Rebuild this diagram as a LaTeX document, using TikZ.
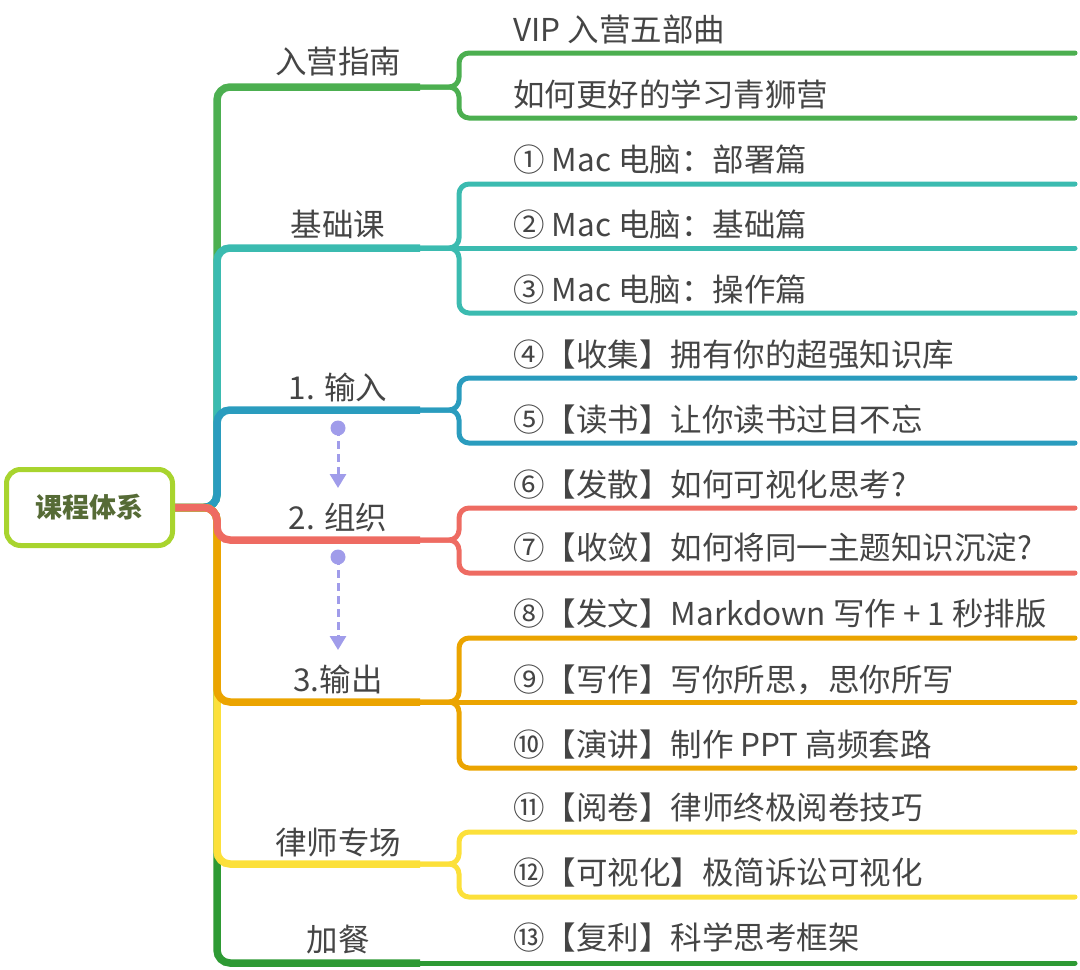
\documentclass[tikz,border=0pt]{standalone}
\usepackage{fontspec}
\setmainfont{Noto Sans CJK SC}
\usetikzlibrary{arrows.meta}
\definecolor{cgreen}{HTML}{4CAF50}
\definecolor{cteal}{HTML}{3BBBB0}
\definecolor{cblue}{HTML}{2A9CBE}
\definecolor{cred}{HTML}{EE6B62}
\definecolor{corange}{HTML}{EBA400}
\definecolor{cyellow}{HTML}{FCE03A}
\definecolor{cdkgreen}{HTML}{2E9A34}
\definecolor{clav}{HTML}{A09CEA}
\definecolor{clime}{HTML}{A8D42E}
\definecolor{colive}{HTML}{566B36}
\definecolor{txt}{HTML}{454545}
\begin{document}
\begin{tikzpicture}[x=1pt,y=-1pt,
  lbl/.style={text=txt, font=\fontsize{31.5}{36}\selectfont, inner sep=0pt, text height=0.88em, text depth=0.12em, yshift=-7.5pt},
  leaf/.style={lbl, anchor=west},
  topic/.style={lbl, anchor=center},
  trunk/.style={line width=7.5pt, rounded corners=13pt},
  twig/.style={line width=5pt, rounded corners=10pt, line cap=round},
  flow/.style={clav, line width=3pt, dash pattern=on 8pt off 5pt, -{Triangle[width=16pt,length=14pt]}},
  rootbox/.style={draw=clime, line width=5pt, rounded corners=14pt, minimum width=166pt, minimum height=76pt, text=colive, font=\bfseries\fontsize{27}{30}\selectfont, inner sep=0pt}
]
\useasboundingbox (0,0) rectangle (1080,970);
\coordinate (hub) at (217,507.5);
\coordinate (rootE) at (170,507.5);

% ---------- upper branches (outer first) ----------
% 入营指南
\draw[cgreen, trunk] (rootE) -- (hub) -- (217,87) -- (420,87);
\draw[cgreen, twig] (410,87) -- (459,87) -- (459,53) -- (1075,53);
\draw[cgreen, twig] (410,87) -- (459,87) -- (459,118) -- (1075,118);
% 基础课
\draw[cteal, trunk] (rootE) -- (hub) -- (217,248) -- (420,248);
\draw[cteal, twig] (410,248) -- (459,248) -- (459,184) -- (1075,184);
\draw[cteal, twig] (410,248) -- (1075,248);
\draw[cteal, twig] (410,248) -- (459,248) -- (459,313) -- (1075,313);
% 1. 输入
\draw[cblue, trunk] (rootE) -- (hub) -- (217,410) -- (420,410);
\draw[cblue, twig] (410,410) -- (459,410) -- (459,378) -- (1075,378);
\draw[cblue, twig] (410,410) -- (459,410) -- (459,443) -- (1075,443);

% ---------- lower branches (outer first) ----------
% 加餐
\draw[cdkgreen, trunk] (rootE) -- (hub) -- (217,963) -- (420,963);
\draw[cdkgreen, twig] (410,963) -- (1075,963);
% 律师专场
\draw[cyellow, trunk] (rootE) -- (hub) -- (217,864) -- (420,864);
\draw[cyellow, twig] (410,864) -- (459,864) -- (459,832) -- (1075,832);
\draw[cyellow, twig] (410,864) -- (459,864) -- (459,897) -- (1075,897);
% 3.输出
\draw[corange, trunk] (rootE) -- (hub) -- (217,702) -- (420,702);
\draw[corange, twig] (410,702) -- (459,702) -- (459,638) -- (1075,638);
\draw[corange, twig] (410,702) -- (1075,702);
\draw[corange, twig] (410,702) -- (459,702) -- (459,768) -- (1075,768);
% 2. 组织
\draw[cred, trunk] (rootE) -- (hub) -- (217,540) -- (420,540);
\draw[cred, twig] (410,540) -- (459,540) -- (459,508) -- (1075,508);
\draw[cred, twig] (410,540) -- (459,540) -- (459,573) -- (1075,573);

% ---------- root ----------
\node[rootbox, fill=white] (root) at (89.5,507.5) {课程体系};

% ---------- topics ----------
\node[topic] (t1) at (338,62) {入营指南};
\node[topic] (t2) at (338,225) {基础课};
\node[topic] (t3) at (338,388) {1. 输入};
\node[topic] (t4) at (338,518) {2. 组织};
\node[topic] (t5) at (338,680) {3.输出};
\node[topic] (t6) at (338,843) {律师专场};
\node[topic] (t7) at (338,940) {加餐};

% ---------- leaves ----------
\node[leaf] (l1) at (513,30) {VIP 入营五部曲};
\node[leaf] (l2) at (513,95) {如何更好的学习青狮营};
\node[leaf] (l3) at (513,160) {① Mac 电脑：部署篇};
\node[leaf] (l4) at (513,225) {② Mac 电脑：基础篇};
\node[leaf] (l5) at (513,290) {③ Mac 电脑：操作篇};
\node[leaf] (l6) at (513,355) {④【收集】拥有你的超强知识库};
\node[leaf] (l7) at (513,420) {⑤【读书】让你读书过目不忘};
\node[leaf] (l8) at (513,485) {⑥【发散】如何可视化思考?};
\node[leaf] (l9) at (513,548) {⑦【收敛】如何将同一主题知识沉淀?};
\node[leaf] (l10) at (513,614) {⑧【发文】Markdown 写作 + 1 秒排版};
\node[leaf] (l11) at (513,680) {⑨【写作】写你所思，思你所写};
\node[leaf] (l12) at (513,745) {⑩【演讲】制作 PPT 高频套路};
\node[leaf] (l13) at (513,808) {⑪【阅卷】律师终极阅卷技巧};
\node[leaf] (l14) at (513,873) {⑫【可视化】极简诉讼可视化};
\node[leaf] (l15) at (513,938) {⑬【复利】科学思考框架};

% ---------- flow arrows ----------
\coordinate (f1s) at (338,428);
\coordinate (f1e) at (338,488);
\coordinate (f2s) at (338,557);
\coordinate (f2e) at (338,650);
\fill[clav] (f1s) circle (7.5pt);
\draw[flow] (f1s) -- (f1e);
\fill[clav] (f2s) circle (7.5pt);
\draw[flow] (f2s) -- (f2e);
\end{tikzpicture}
\end{document}
